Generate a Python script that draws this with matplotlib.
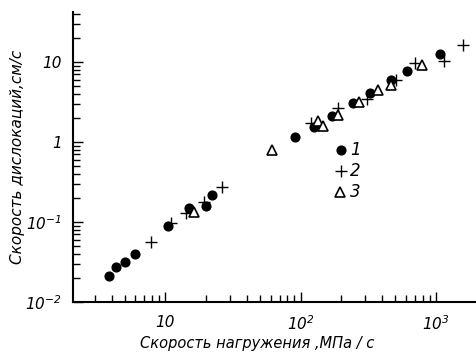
import matplotlib
matplotlib.use("Agg")
import matplotlib.pyplot as plt
from matplotlib.ticker import LogLocator, FixedLocator, NullFormatter

plt.rcParams['font.family'] = ['Liberation Sans Narrow', 'DejaVu Sans']
plt.rcParams['font.style'] = 'italic'
plt.rcParams['mathtext.fontset'] = 'custom'
plt.rcParams['mathtext.rm'] = 'DejaVu Sans:italic'
plt.rcParams['mathtext.it'] = 'DejaVu Sans:italic'
plt.rcParams['mathtext.default'] = 'rm'

# series 1 (filled dots)
x1 = [3.81, 4.34, 5.0, 5.98, 10.4, 15.0, 19.9, 22.3, 90.3, 125, 170, 244, 327, 465, 609, 1070]
y1 = [0.0211, 0.0272, 0.0313, 0.0398, 0.089, 0.148, 0.158, 0.217, 1.16, 1.55, 2.11, 3.05, 4.13, 5.96, 7.79, 12.6]
# series 2 (plus)
x2 = [7.85, 11.0, 14.2, 19.4, 26.4, 118.5, 188, 309, 508, 702, 1150, 1590]
y2 = [0.0557, 0.096, 0.128, 0.18, 0.276, 1.74, 2.64, 3.42, 5.96, 9.64, 10.3, 16.3]
# series 3 (open triangles)
x3 = [16.3, 61.5, 135, 147, 190, 270, 375, 470, 794]
y3 = [0.134, 0.794, 1.85, 1.58, 2.18, 3.19, 4.47, 5.16, 9.17]

xticks = [10, 100, 1000]
xticklabels = ['10', '$10^2$', '$10^3$']
yticks = [0.01, 0.1, 1, 10]
yticklabels = ['$10^{-2}$', '$10^{-1}$', '1', '10']

fig = plt.figure(figsize=(4.76, 3.63), dpi=100)
ax = fig.add_axes([0.153, 0.168, 0.845, 0.799])

ax.plot(x1, y1, 'o', color='black', markersize=6.3, linestyle='none')
ax.plot(x2, y2, '+', color='black', markersize=8, markeredgewidth=1.0, linestyle='none')
ax.plot(x3, y3, '^', markerfacecolor='white', markeredgecolor='black',
        markersize=6.5, markeredgewidth=1.2, linestyle='none')

ax.set_xscale('log')
ax.set_yscale('log')
ax.set_xlim(2.07, 1950)
ax.set_ylim(0.01, 42)

ax.spines['top'].set_visible(False)
ax.spines['right'].set_visible(False)
ax.spines['left'].set_linewidth(1.5)
ax.spines['bottom'].set_linewidth(1.5)

ax.xaxis.set_major_locator(FixedLocator(xticks))
ax.set_xticklabels(xticklabels)
ax.yaxis.set_major_locator(FixedLocator(yticks))
ax.set_yticklabels(yticklabels)
ax.xaxis.set_minor_locator(LogLocator(base=10, subs=range(2, 10)))
ax.yaxis.set_minor_locator(LogLocator(base=10, subs=range(2, 10)))
ax.xaxis.set_minor_formatter(NullFormatter())
ax.yaxis.set_minor_formatter(NullFormatter())
ax.tick_params(which='both', direction='in', color='black', width=1.0, labelsize=11)
ax.tick_params(which='major', length=7)
ax.tick_params(which='minor', length=5)
ax.tick_params(axis='x', pad=9)
ax.tick_params(axis='y', pad=8)

ax.set_xlabel('Скорость нагружения ,МПа / с', fontsize=10.5)
ax.set_ylabel('Скорость дислокаций,см/с', fontsize=11)
ax.xaxis.set_label_coords(0.458, -0.117)
ax.yaxis.set_label_coords(-0.119, 0.5)

# legend drawn as markers with numbers
ax.plot([0.667], [0.524], 'o', color='black', markersize=6.3, transform=ax.transAxes, clip_on=False)
ax.text(0.69, 0.524, '1', transform=ax.transAxes, fontsize=12, va='center')
ax.plot([0.667], [0.452], '+', color='black', markersize=8, markeredgewidth=1.0, transform=ax.transAxes, clip_on=False)
ax.text(0.69, 0.452, '2', transform=ax.transAxes, fontsize=12, va='center')
ax.plot([0.665], [0.38], '^', markerfacecolor='white', markeredgecolor='black', markersize=6.5,
        markeredgewidth=1.2, transform=ax.transAxes, clip_on=False)
ax.text(0.69, 0.38, '3', transform=ax.transAxes, fontsize=12, va='center')

fig.savefig('out.png', dpi=100)
